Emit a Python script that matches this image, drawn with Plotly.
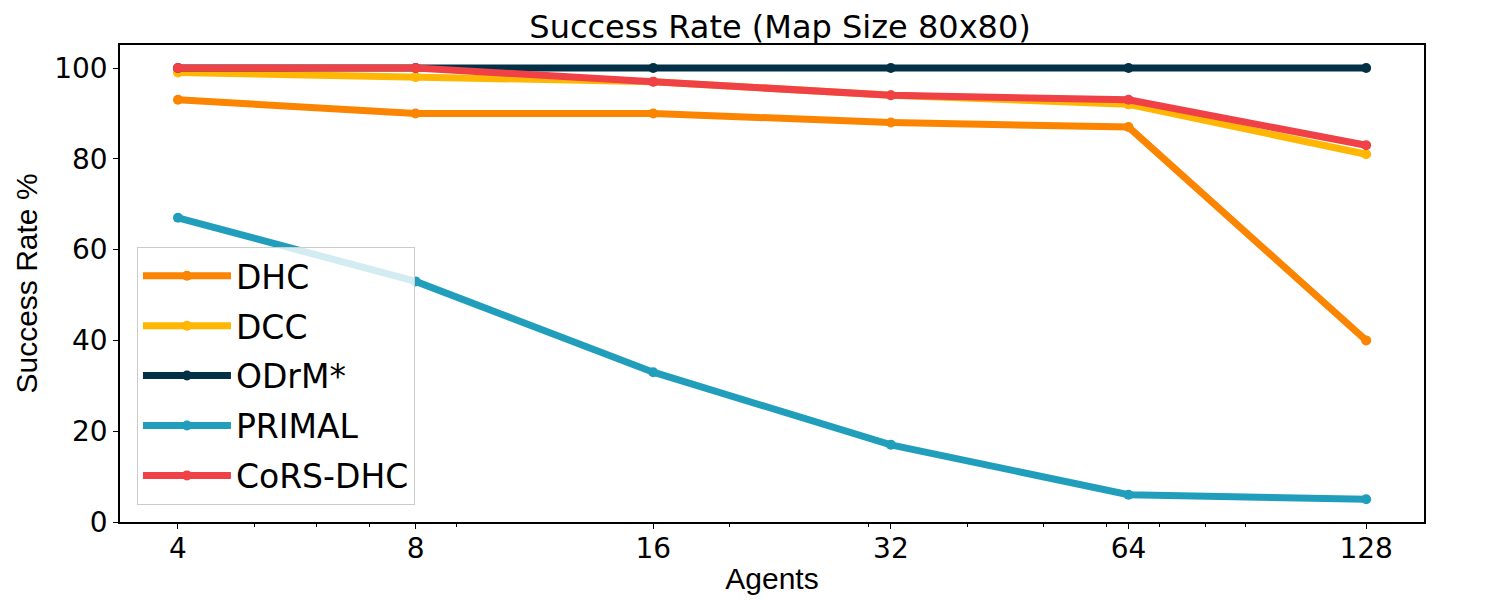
import plotly.graph_objects as go

# agent counts on the x axis
agents = [4, 8, 16, 32, 64, 128]

# success rates (%)
dhc = [93, 90, 90, 88, 87, 40]
dcc = [99, 98, 97, 94, 92, 81]
odrm = [100, 100, 100, 100, 100, 100]
primal = [67, 53, 33, 17, 6, 5]
cors_dhc = [100, 100, 97, 94, 93, 83]

series_names = ['DHC', 'DCC', 'ODrM*', 'PRIMAL', 'CoRS-DHC']
series_values = [dhc, dcc, odrm, primal, cors_dhc]
series_colors = ['#FB8500', '#FFB703', '#023047', '#219EBC', '#EF4146']

x_ticks = [4, 8, 16, 32, 64, 128]
x_minor = [5, 6, 7, 9, 20, 30, 40, 50, 60, 70, 80, 90]
y_ticks = [0, 20, 40, 60, 80, 100]

fig = go.Figure()
for name, vals, color in zip(series_names, series_values, series_colors):
    fig.add_trace(go.Scatter(
        x=agents, y=vals, name=name, mode='lines+markers', legendgroup=name,
        line=dict(color=color, width=7),
        marker=dict(color=color, size=10),
    ))

tick_font = dict(family='DejaVu Sans', size=28, color='black')
label_font = dict(family='Liberation Sans', size=30, color='black')

# page body adds an 8px offset, margins compensate for it
fig.update_layout(
    width=1500, height=600,
    margin=dict(l=112, r=84, t=37, b=86),
    paper_bgcolor='white', plot_bgcolor='white',
    title=dict(text='Success Rate (Map Size 80x80)', x=0.5147, xanchor='center',
               y=1 - 19 / 600, yanchor='middle', yref='container',
               font=dict(family='DejaVu Sans', size=32, color='black')),
    legend=dict(x=0.013, y=0.036, xanchor='left', yanchor='bottom',
                bgcolor='rgba(255,255,255,0.8)', bordercolor='#cccccc', borderwidth=1,
                font=dict(family='DejaVu Sans', size=33, color='black'),
                itemwidth=88, tracegroupgap=4, traceorder='grouped'),
    showlegend=True,
)

fig.update_xaxes(
    type='log', range=[0.5286, 2.1805], automargin=False,
    tickmode='array', tickvals=x_ticks, ticktext=[str(t) for t in x_ticks],
    ticks='outside', ticklen=5, tickwidth=1.2, tickcolor='black',
    ticklabelstandoff=-4,
    minor=dict(tickmode='array', tickvals=x_minor, ticks='outside', ticklen=3,
               tickwidth=1, tickcolor='black', showgrid=False),
    showline=True, linecolor='black', linewidth=1.5, mirror=True,
    showgrid=False, zeroline=False, tickfont=tick_font,
    title=dict(text='Agents', font=label_font, standoff=4),
)
fig.update_yaxes(
    range=[0, 105.07], tickmode='array', tickvals=y_ticks, automargin=False,
    ticks='outside', ticklen=5, tickwidth=1.2, tickcolor='black',
    showline=True, linecolor='black', linewidth=1.5, mirror=True,
    showgrid=False, zeroline=False, tickfont=tick_font,
    title=dict(text='Success Rate %', font=label_font, standoff=8),
)

fig.write_html("out.html")
